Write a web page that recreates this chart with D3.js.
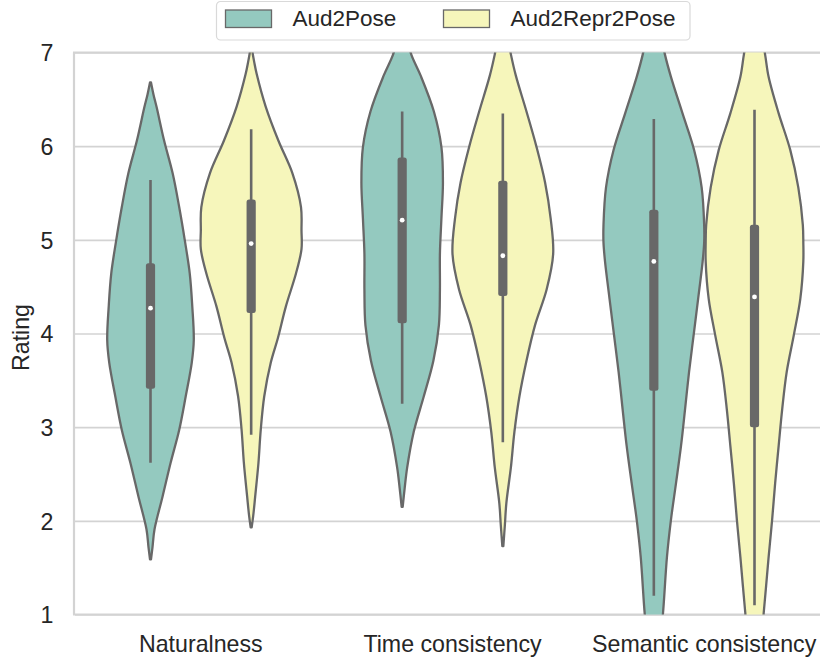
<!DOCTYPE html>
<html>
<head>
<meta charset="utf-8">
<script src="https://cdn.jsdelivr.net/npm/d3@7"></script>
<style>
  html, body { margin: 0; padding: 0; background: #ffffff; }
  svg { display: block; font-family: "Liberation Sans", Arial, sans-serif; }
</style>
</head>
<body>
<svg id="chart" width="820" height="657"></svg>
<script>
// ---------------- data ----------------
const categories = ["Naturalness", "Time consistency", "Semantic consistency"];
const hues = ["Aud2Pose", "Aud2Repr2Pose"];
const hueColors = ["#94c9bf", "#f6f6bb"];
const yTicks = [1, 2, 3, 4, 5, 6, 7];

// violin profiles: rating levels and relative density (1 = widest)
const natA_levels = [6.68, 6.55, 6.42, 6.06, 5.71, 5.35, 5.0, 4.64, 4.29, 3.93, 3.69, 3.33, 2.97, 2.62, 2.26, 1.91, 1.72, 1.59];
const natA_density = [0.01, 0.06, 0.12, 0.27, 0.44, 0.57, 0.68, 0.78, 0.83, 0.86, 0.82, 0.70, 0.57, 0.40, 0.24, 0.08, 0.04, 0.01];
const natB_levels = [7.05, 6.9, 6.77, 6.42, 6.06, 5.71, 5.35, 5.1, 4.9, 4.64, 4.29, 3.95, 3.69, 3.33, 2.97, 2.62, 2.26, 2.05, 1.93];
const natB_density = [0.01, 0.06, 0.11, 0.29, 0.54, 0.82, 0.99, 1.0, 1.0, 0.89, 0.69, 0.53, 0.39, 0.26, 0.19, 0.145, 0.08, 0.04, 0.01];
const timeA_levels = [7.3, 7.15, 6.98, 6.75, 6.37, 5.99, 5.61, 5.23, 4.85, 4.47, 4.09, 3.71, 3.33, 2.95, 2.57, 2.35, 2.15];
const timeA_density = [0.04, 0.10, 0.18, 0.37, 0.63, 0.78, 0.81, 0.78, 0.75, 0.75, 0.73, 0.62, 0.43, 0.23, 0.10, 0.05, 0.01];
const timeB_levels = [7.3, 7.15, 6.98, 6.75, 6.37, 5.99, 5.61, 5.23, 4.85, 4.47, 4.09, 3.71, 3.33, 2.95, 2.57, 2.19, 1.95, 1.73];
const timeB_density = [0.04, 0.10, 0.16, 0.26, 0.47, 0.67, 0.84, 0.95, 1.0, 0.87, 0.64, 0.47, 0.33, 0.23, 0.16, 0.07, 0.04, 0.01];
const semA_levels = [7.4, 7.2, 6.98, 6.74, 6.35, 5.96, 5.56, 5.16, 4.97, 4.77, 4.37, 3.98, 3.59, 3.19, 2.80, 2.40, 2.01, 1.61, 1.0, 0.6];
const semA_density = [0.06, 0.14, 0.22, 0.34, 0.57, 0.80, 0.95, 1.0, 1.0, 0.97, 0.88, 0.79, 0.70, 0.62, 0.54, 0.44, 0.34, 0.26, 0.18, 0.10];
const semB_levels = [7.4, 7.2, 6.98, 6.74, 6.35, 5.96, 5.56, 5.16, 4.97, 4.77, 4.37, 3.98, 3.59, 3.19, 2.80, 2.40, 2.01, 1.61, 1.0, 0.6];
const semB_density = [0.06, 0.13, 0.21, 0.28, 0.48, 0.71, 0.87, 0.96, 0.97, 0.97, 0.91, 0.78, 0.64, 0.55, 0.48, 0.41, 0.35, 0.28, 0.18, 0.10];

// box statistics: [whisker low, q1, median, q3, whisker high]
const natA_box = [2.62, 3.41, 4.27, 4.75, 5.64];
const natB_box = [2.92, 4.22, 4.96, 5.43, 6.18];
const timeA_box = [3.25, 4.11, 5.21, 5.88, 6.37];
const timeB_box = [2.84, 4.40, 4.83, 5.63, 6.35];
const semA_box = [1.2, 3.39, 4.77, 5.32, 6.29];
const semB_box = [1.1, 3.0, 4.39, 5.16, 6.39];

const violins = [
  { cat: categories[0], hue: hues[0], levels: natA_levels, density: natA_density, box: natA_box },
  { cat: categories[0], hue: hues[1], levels: natB_levels, density: natB_density, box: natB_box },
  { cat: categories[1], hue: hues[0], levels: timeA_levels, density: timeA_density, box: timeA_box },
  { cat: categories[1], hue: hues[1], levels: timeB_levels, density: timeB_density, box: timeB_box },
  { cat: categories[2], hue: hues[0], levels: semA_levels, density: semA_density, box: semA_box },
  { cat: categories[2], hue: hues[1], levels: semB_levels, density: semB_density, box: semB_box }
];

// ---------------- layout ----------------
const plot = { left: 75, right: 830, top: 52.5, bottom: 614.5 };
const gray = "#686868";
const gridColor = "#d3d3d3";
const textColor = "#262626";

const svg = d3.select("#chart");

const x = d3.scaleBand().domain(categories).range([plot.left, plot.right]).paddingInner(0).paddingOuter(0);
const xHue = d3.scaleBand().domain(hues).range([0.1 * x.bandwidth(), 0.9 * x.bandwidth()]);
const y = d3.scaleLinear().domain([1, 7]).range([plot.bottom, plot.top]);
const w = d3.scaleLinear().domain([0, 1]).range([0, xHue.bandwidth() / 2]);
const color = d3.scaleOrdinal().domain(hues).range(hueColors);

// clip
svg.append("defs").append("clipPath").attr("id", "plotclip")
  .append("rect")
  .attr("x", plot.left - 2).attr("y", plot.top)
  .attr("width", 820 - plot.left + 2).attr("height", plot.bottom - plot.top);

// grid lines
const yAxis = d3.axisLeft(y).tickValues(yTicks).tickSize(-(plot.right - plot.left)).tickPadding(20).tickFormat(d3.format("d"));
const gy = svg.append("g").attr("transform", `translate(${plot.left},0)`).call(yAxis);
gy.select(".domain").remove();
gy.selectAll(".tick line").attr("stroke", gridColor).attr("stroke-width", 1.7);
gy.selectAll(".tick text").attr("fill", textColor).attr("font-size", 23.2).attr("x", 53.5 - plot.left).attr("dy", "0.36em");

// spines
svg.append("line").attr("x1", plot.left - 1).attr("x2", plot.left - 1).attr("y1", plot.top).attr("y2", plot.bottom)
  .attr("stroke", gridColor).attr("stroke-width", 2.2);
svg.append("line").attr("x1", plot.left - 2).attr("x2", 820).attr("y1", plot.bottom).attr("y2", plot.bottom)
  .attr("stroke", gridColor).attr("stroke-width", 2.2);
svg.append("line").attr("x1", plot.left - 2).attr("x2", 820).attr("y1", plot.top).attr("y2", plot.top)
  .attr("stroke", gridColor).attr("stroke-width", 2.2);

// x axis labels
const xAxis = d3.axisBottom(x).tickSize(0).tickPadding(0);
const gx = svg.append("g").attr("transform", `translate(0,${plot.bottom})`).call(xAxis);
gx.select(".domain").remove();
gx.selectAll(".tick text").attr("fill", textColor).attr("font-size", 23.2).attr("dy", null).attr("y", 37.5);

// y label
svg.append("text")
  .attr("transform", `translate(28.5,${(plot.top + plot.bottom) / 2 + 4}) rotate(-90)`)
  .attr("text-anchor", "middle").attr("fill", textColor).attr("font-size", 23.2)
  .text("Rating");

// violins
const gv = svg.append("g").attr("clip-path", "url(#plotclip)");
violins.forEach(v => {
  const cx = x(v.cat) + xHue(v.hue) + xHue.bandwidth() / 2;
  const pts = v.levels.map((l, i) => ({ l, d: v.density[i] }));
  const area = d3.area()
    .y(d => y(d.l))
    .x0(d => cx - w(d.d))
    .x1(d => cx + w(d.d))
    .curve(d3.curveCatmullRom.alpha(0.5));
  gv.append("path").datum(pts)
    .attr("d", area)
    .attr("fill", color(v.hue))
    .attr("stroke", gray)
    .attr("stroke-width", 2.3)
    .attr("stroke-linejoin", "round");
  // whisker
  gv.append("line")
    .attr("x1", cx).attr("x2", cx)
    .attr("y1", y(v.box[0])).attr("y2", y(v.box[4]))
    .attr("stroke", gray).attr("stroke-width", 2.6);
  // box
  gv.append("rect")
    .attr("x", cx - 4.6).attr("width", 9.2)
    .attr("y", y(v.box[3])).attr("height", y(v.box[1]) - y(v.box[3]))
    .attr("rx", 2.5)
    .attr("fill", gray);
  // median
  gv.append("circle")
    .attr("cx", cx).attr("cy", y(v.box[2])).attr("r", 2.4)
    .attr("fill", "#ffffff");
});

// legend
const lg = svg.append("g");
lg.append("rect").attr("x", 216.5).attr("y", 1.5).attr("width", 473.5).attr("height", 38.5)
  .attr("rx", 4).attr("fill", "#ffffff").attr("fill-opacity", 0.8)
  .attr("stroke", "#d9d9d9").attr("stroke-width", 1.2);
const legendX = [225.5, 443.5];
hues.forEach((h, i) => {
  lg.append("rect").attr("x", legendX[i]).attr("y", 10).attr("width", 46).attr("height", 17.5)
    .attr("fill", color(h)).attr("stroke", gray).attr("stroke-width", 1.3);
  lg.append("text").attr("x", legendX[i] + 67).attr("y", 26)
    .attr("fill", textColor).attr("font-size", 22.5).text(h);
});
</script>
</body>
</html>
